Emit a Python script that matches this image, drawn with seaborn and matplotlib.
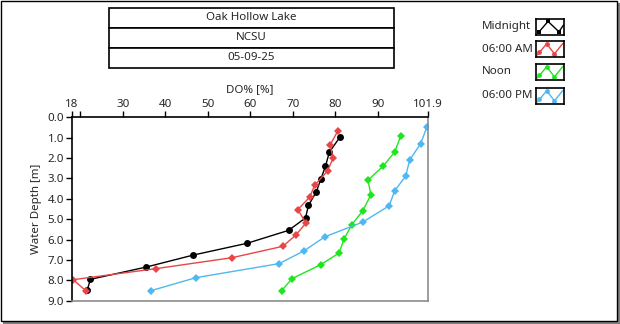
import matplotlib
matplotlib.use("Agg")
import matplotlib.pyplot as plt
from matplotlib.patches import Rectangle
import pandas as pd
import seaborn as sns

# Dissolved-oxygen profiles, Oak Hollow Lake, 05-09-25
midnight_do = [81.1, 78.6, 77.7, 76.6, 75.5, 73.7, 73.0, 69.0, 59.3, 46.6, 35.5, 22.4, 21.6]
midnight_depth = [0.97, 1.72, 2.40, 3.04, 3.68, 4.32, 4.94, 5.55, 6.18, 6.76, 7.35, 7.95, 8.49]

am6_do = [80.6, 78.8, 79.5, 78.2, 75.2, 74.0, 71.2, 73.1, 70.8, 67.7, 55.7, 37.7, 18.3, 21.3]
am6_depth = [0.67, 1.36, 2.00, 2.63, 3.32, 3.91, 4.53, 5.19, 5.76, 6.33, 6.89, 7.43, 7.97, 8.51]

noon_do = [95.4, 94.0, 91.3, 87.7, 88.4, 86.5, 83.9, 82.1, 80.9, 76.6, 69.8, 67.4]
noon_depth = [0.92, 1.70, 2.39, 3.09, 3.80, 4.58, 5.27, 5.97, 6.66, 7.23, 7.92, 8.51]

pm6_do = [101.6, 100.1, 97.5, 96.6, 94.0, 92.7, 86.5, 77.6, 72.6, 66.8, 47.2, 36.6]
pm6_depth = [0.46, 1.29, 2.10, 2.88, 3.60, 4.34, 5.14, 5.86, 6.56, 7.18, 7.87, 8.51]

series_names = ["Midnight", "06:00 AM", "Noon", "06:00 PM"]
title_lines = ["Oak Hollow Lake", "NCSU", "05-09-25"]
x_ticks = [18, 20, 30, 40, 50, 60, 70, 80, 90, 101.9]
x_tick_labels = ["18", "", "30", "40", "50", "60", "70", "80", "90", "101.9"]
y_ticks = [0, 1, 2, 3, 4, 5, 6, 7, 8, 9]

colors = {"Midnight": "#000000", "06:00 AM": "#E84646",
          "Noon": "#1EE61E", "06:00 PM": "#4FB8EE"}
markers = {"Midnight": "o", "06:00 AM": "D", "Noon": "D", "06:00 PM": "D"}

frames = []
for name, xs, ys in zip(series_names,
                        [midnight_do, am6_do, noon_do, pm6_do],
                        [midnight_depth, am6_depth, noon_depth, pm6_depth]):
    frames.append(pd.DataFrame({"DO": xs, "Depth": ys, "Series": name,
                                "order": range(len(xs))}))
data = pd.concat(frames, ignore_index=True)

sns.set_style("white")
plt.rcParams["font.family"] = ["Noto Sans", "DejaVu Sans"]
FS = 8.3

W, H = 620, 324
fig = plt.figure(figsize=(W / 100, H / 100), dpi=100)


def fx(px):
    return px / W


def fy(py):
    return 1 - py / H


# Plot area
left, right, top, bottom = 71.8, 428.3, 117.3, 300.7
ax = fig.add_axes([fx(left), fy(bottom), fx(right) - fx(left), fy(top) - fy(bottom)])

for name in series_names:
    sub = data[data["Series"] == name]
    sns.lineplot(data=sub, x="DO", y="Depth", sort=False, estimator=None,
                 color=colors[name], marker=markers[name],
                 markersize=5 if markers[name] == "o" else 4.4,
                 markeredgewidth=0, linewidth=1.0, ax=ax, legend=False)

ax.set_xlim(18, 101.9)
ax.set_ylim(9, 0)
ax.xaxis.tick_top()
ax.xaxis.set_label_position("top")
ax.set_xticks(x_ticks)
ax.set_xticklabels(x_tick_labels)
ax.set_yticks(y_ticks)
ax.set_yticklabels([f"{v:.1f}" for v in y_ticks])
ax.set_xlabel("DO% [%]", fontsize=FS, labelpad=5)
ax.set_ylabel("Water Depth [m]", fontsize=FS, labelpad=4)
ax.tick_params(axis="both", which="major", length=4, width=1, color="black",
               labelsize=FS, direction="out", pad=1.5)
ax.tick_params(axis="x", top=True, bottom=False)
ax.tick_params(axis="y", left=True, right=False)
for side in ["top", "left"]:
    ax.spines[side].set_color("black")
    ax.spines[side].set_linewidth(1.2)
for side in ["right", "bottom"]:
    ax.spines[side].set_color("#8c8c8c")
    ax.spines[side].set_linewidth(1.2)

# Outer frame with drop shadow
fig.patches.append(Rectangle((fx(617), fy(324)), fx(3), fy(3) - fy(324),
                             transform=fig.transFigure, facecolor="#808080",
                             edgecolor="none"))
fig.patches.append(Rectangle((fx(3), fy(324)), fx(617), fy(321) - fy(324),
                             transform=fig.transFigure, facecolor="#808080",
                             edgecolor="none"))
fig.patches.append(Rectangle((fx(0.5), fy(321)), fx(616.5), fy(0.5) - fy(321),
                             transform=fig.transFigure, facecolor="none",
                             edgecolor="black", linewidth=1.0))

# Stacked title boxes
box_left, box_right = 109, 394
box_tops = [8, 28, 48]
for text, bt in zip(title_lines, box_tops):
    fig.patches.append(Rectangle((fx(box_left), fy(bt + 19.5)),
                                 fx(box_right) - fx(box_left), fy(bt) - fy(bt + 19.5),
                                 transform=fig.transFigure, facecolor="white",
                                 edgecolor="black", linewidth=1.2))
    fig.text(fx((box_left + box_right) / 2), fy(bt + 10), text, ha="center",
             va="center", fontsize=FS)

# Legend: labels with small plot icons
icon_tops = [19, 41, 64, 88]
for name, it in zip(series_names, icon_tops):
    fig.text(fx(482), fy(it + 8), name, ha="left", va="center", fontsize=FS)
    iax = fig.add_axes([fx(536), fy(it + 16), fx(28), fy(it) - fy(it + 16)])
    if name == "Midnight":
        ix, iy = [0.1, 0.43, 0.82, 0.98], [0.18, 0.85, 0.2, 0.62]
        iax.plot(ix, iy, color="black", linewidth=1.0)
        iax.plot(ix[:3], iy[:3], linestyle="none", marker="s", markersize=3.5,
                 color="black", markeredgewidth=0)
    else:
        ix, iy = [0.04, 0.38, 0.66, 0.96], [0.12, 0.82, 0.2, 0.85]
        iax.plot(ix, iy, color=colors[name], linewidth=1.0)
        iax.plot([0.12, 0.38, 0.66], [0.3, 0.82, 0.2], linestyle="none",
                 marker="o", markersize=3.5, color=colors[name], markeredgewidth=0)
    iax.set_xlim(0, 1)
    iax.set_ylim(0, 1)
    iax.set_xticks([])
    iax.set_yticks([])
    for sp in iax.spines.values():
        sp.set_color("black")
        sp.set_linewidth(1.2)

fig.savefig("out.png", dpi=100)
